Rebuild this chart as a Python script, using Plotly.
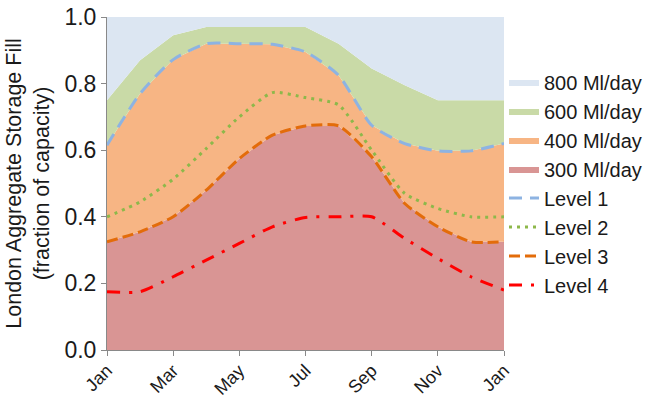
import plotly.graph_objects as go

# Month positions (0 = Jan ... 12 = Jan of the following year)
months = list(range(13))
tick_pos = [0, 2, 4, 6, 8, 10, 12]
tick_labels = ["Jan", "Mar", "May", "Jul", "Sep", "Nov", "Jan"]

# Upper boundary of each demand-saving band (fraction of capacity)
band_800 = [1.0] * 13
band_600 = [0.75, 0.87, 0.945, 0.97, 0.97, 0.97, 0.97, 0.92, 0.845, 0.795, 0.75, 0.75, 0.75]
band_400 = [0.615, 0.77, 0.872, 0.92, 0.92, 0.918, 0.895, 0.825, 0.675, 0.62, 0.598, 0.598, 0.62]
band_300 = [0.325, 0.355, 0.40, 0.48, 0.575, 0.645, 0.673, 0.673, 0.58, 0.44, 0.37, 0.325, 0.325]

# Control curves
level_1 = band_400
level_2 = [0.40, 0.445, 0.513, 0.605, 0.70, 0.773, 0.758, 0.736, 0.60, 0.47, 0.425, 0.40, 0.40]
level_3 = band_300
level_4 = [0.175, 0.175, 0.22, 0.27, 0.32, 0.37, 0.398, 0.40, 0.40, 0.335, 0.275, 0.22, 0.18]

FONT = "Liberation Sans, Arial, sans-serif"
TEXT = "#1a1a1a"

fig = go.Figure()

# Stacked bands, drawn bottom-up
bands = [
    ("300 Ml/day", band_300, "#D99594", "tozeroy", 4),
    ("400 Ml/day", band_400, "#F7B584", "tonexty", 3),
    ("600 Ml/day", band_600, "#C9DAA7", "tonexty", 2),
    ("800 Ml/day", band_800, "#DCE6F2", "tonexty", 1),
]
for name, vals, color, fill, rank in bands:
    fig.add_trace(go.Scatter(
        x=months, y=vals, name=name, mode="lines", fill=fill,
        fillcolor=color, line=dict(width=0, color=color),
        legendrank=rank, hoverinfo="skip",
    ))

levels = [
    ("Level 1", level_1, "#8DB3E2", "13px,8px", 3, 5),
    ("Level 2", level_2, "#8DB84A", "3px,5px", 3, 6),
    ("Level 3", level_3, "#E36C0A", "11px,5px", 3, 7),
    ("Level 4", level_4, "#FF0000", "13px,9px,3px,9px", 3, 8),
]
for name, vals, color, dash, width, rank in levels:
    fig.add_trace(go.Scatter(
        x=months, y=vals, name=name, mode="lines",
        line=dict(color=color, dash=dash, width=width, shape="spline", smoothing=0.6),
        legendrank=rank,
    ))

fig.update_layout(
    width=647, height=399,
    margin=dict(l=107, r=143, t=17, b=49, autoexpand=False),
    paper_bgcolor="white", plot_bgcolor="white",
    font=dict(family=FONT, size=20, color=TEXT),
    showlegend=True,
    legend=dict(
        x=1.0, xanchor="left", y=0.5, yanchor="middle",
        traceorder="normal",
        font=dict(family=FONT, size=20, color=TEXT),
        itemwidth=30, tracegroupgap=0, bgcolor="rgba(0,0,0,0)",
    ),
    xaxis=dict(
        range=[0, 12], tickmode="array", tickvals=tick_pos, ticktext=tick_labels,
        tickangle=-45, showgrid=False, zeroline=False, automargin=False,
        showline=True, linecolor="#898989", linewidth=1,
        ticks="outside", tickcolor="#898989", ticklen=5,
        ticklabelstandoff=-3,
        tickfont=dict(family=FONT, size=18, color=TEXT),
    ),
    yaxis=dict(
        range=[0, 1.0], tickmode="array", tickvals=[0, 0.2, 0.4, 0.6, 0.8, 1.0],
        tickformat=".1f", showgrid=False, zeroline=False, automargin=False,
        showline=True, linecolor="#898989", linewidth=1,
        ticks="outside", tickcolor="#898989", ticklen=5,
        tickfont=dict(family=FONT, size=23, color=TEXT),
        title=dict(text="London Aggregate Storage Fill<br>(fraction of capacity)",
                   font=dict(family=FONT, size=21.5, color=TEXT),
                   standoff=8),
    ),
)

fig.write_html("out.html")
